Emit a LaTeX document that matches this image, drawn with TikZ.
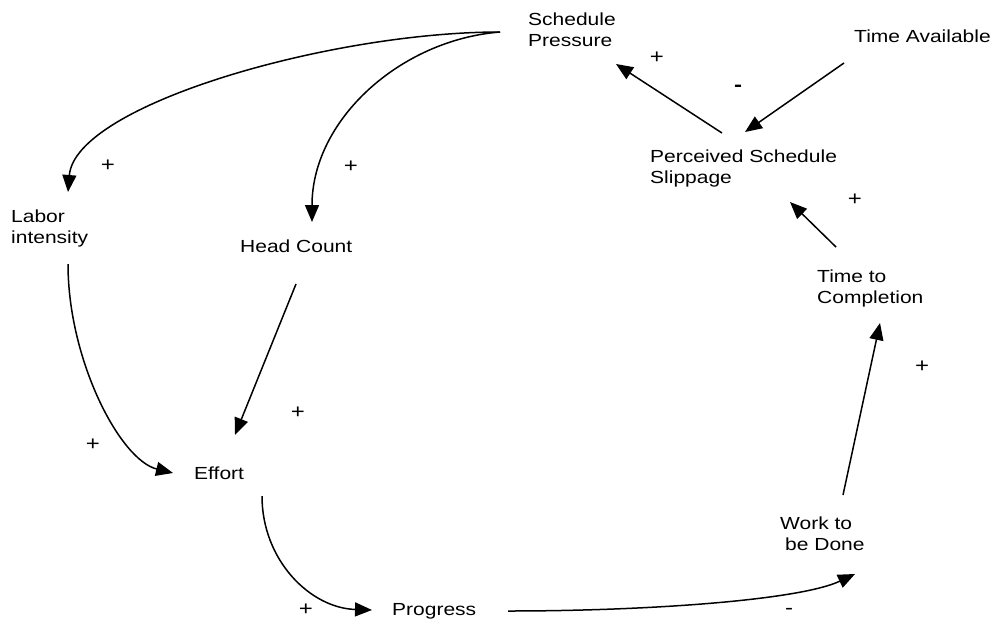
\documentclass[tikz,border=0pt]{standalone}
\usepackage{fontspec}
\setmainfont{Liberation Sans}[FakeStretch=1.2]
\usetikzlibrary{arrows.meta}
\tikzset{
  var/.style={anchor=west, inner sep=0pt, align=left, font=\fontsize{17.5}{21}\selectfont},
  sign/.style={inner sep=0pt, font=\fontsize{20}{22}\selectfont},
  link/.style={line width=1.5pt, -{Triangle[length=17pt,width=14pt]}},
}
\begin{document}
\begin{tikzpicture}[x=1pt,y=-1pt]
\useasboundingbox (0,0) rectangle (997,625);
% variables
\node[var] (sp)  at (528,30)  {Schedule\\Pressure};
\node[var] (ta)  at (854,36)  {Time Available};
\node[var] (pss) at (650,168) {Perceived Schedule\\Slippage};
\node[var] (li)  at (11,228)  {Labor\\intensity};
\node[var] (hc)  at (240,246) {Head Count};
\node[var] (ef)  at (194,473) {Effort};
\node[var] (pr)  at (392,611) {Progress};
\node[var] (wd)  at (780,534) {Work to\\\hspace*{5pt}be Done};
\node[var] (tc)  at (817,288) {Time to\\Completion};
% links
\draw[link] ([shift={(-28,2)}]sp.west) .. controls +(-170,0) and +(7,-87) .. ([shift={(57,-36)}]li.west);
\draw[link] ([shift={(-28,2)}]sp.west) .. controls +(-100,8) and +(0,-102) .. ([shift={(72,-24)}]hc.west);
\draw[link] ([shift={(57,36)}]li.west) .. controls +(0,96) and +(-53,-13) .. ([shift={(-21,0)}]ef.west);
\draw[link] ([shift={(56,38)}]hc.west) -- ([shift={(41,-38)}]ef.west);
\draw[link] ([shift={(68,23)}]ef.west) .. controls +(0,64) and +(-62,-2) .. ([shift={(-20,-1)}]pr.west);
\draw[link] ([shift={(116,0)}]pr.west) .. controls +(142,0) and +(-55,26) .. ([shift={(75,40)}]wd.west);
\draw[link] ([shift={(63,-39)}]wd.west) -- ([shift={(63,35)}]tc.west);
\draw[link] ([shift={(19,-41)}]tc.west) -- ([shift={(140,34)}]pss.west);
\draw[link] ([shift={(72,-35)}]pss.west) -- ([shift={(88,34)}]sp.west);
\draw[link] ([shift={(-10,27)}]ta.west) -- ([shift={(95,-36)}]pss.west);
% polarity signs
\node[sign] (s1)  at (657,58)  {+};
\node[sign, font=\fontsize{20}{22}\selectfont\bfseries] (s2) at (738,88) {-};
\node[sign] (s3)  at (855,200) {+};
\node[sign] (s4)  at (108,166) {+};
\node[sign] (s5)  at (351,167) {+};
\node[sign] (s6)  at (93,445)  {+};
\node[sign] (s7)  at (298,413) {+};
\node[sign] (s8)  at (306,610) {+};
\node[sign] (s9)  at (789,611) {-};
\node[sign] (s10) at (922,367) {+};
\end{tikzpicture}
\end{document}
